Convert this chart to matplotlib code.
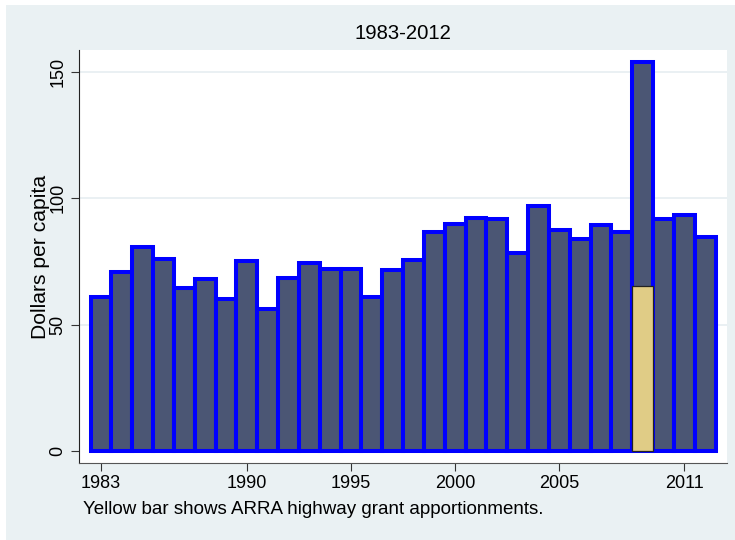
import numpy as np
import matplotlib.pyplot as plt
from matplotlib.patches import Rectangle

plt.rcParams['font.family'] = ['Liberation Sans', 'DejaVu Sans']

years = list(range(1983, 2013))
dollars = [60.9, 70.7, 80.7, 76.0, 64.5, 68.1, 60.3, 75.2, 56.3, 68.6,
           74.4, 72.0, 72.0, 60.9, 71.6, 75.7, 86.7, 89.8, 92.2, 92.0,
           78.2, 96.8, 87.3, 83.8, 89.4, 86.8, 153.8, 92.0, 93.4, 84.6]
arra_year = [2009]
arra_value = [65.4]
xticks = [1983, 1990, 1995, 2000, 2005, 2011]
yticks = [0, 50, 100, 150]

bg = '#EAF1F3'
fig = plt.figure(figsize=(7.35, 5.4), dpi=100, facecolor='white')
fig.patches.append(Rectangle((6/735, 0), 1, 535/540, transform=fig.transFigure,
                             facecolor=bg, edgecolor='none', zorder=-10))

ax = fig.add_axes([79/735, 77/540, 648/735, 413/540])
ax.set_facecolor('white')
for y in yticks[1:]:
    ax.axhline(y, color='#E6EEF1', lw=1.2, zorder=0)

ax.bar(years, dollars, width=1, color='#4B5674', edgecolor='#0000FF', linewidth=2.9, zorder=2)
ax.bar(arra_year, arra_value, width=1, color='#E0CC86', edgecolor='#222222', linewidth=0.9, zorder=3)

ax.set_xlim(1981.94, 2013.05)
ax.set_ylim(-4.75, 158.7)
ax.set_xticks(xticks)
ax.set_yticks(yticks)
ax.set_yticklabels([str(v) for v in yticks], rotation=90, va='center')
ax.tick_params(axis='both', length=6, width=0.8, color='#333333')
ax.tick_params(axis='y', labelsize=13, pad=3)
ax.tick_params(axis='x', labelsize=13, pad=3)
ax.spines['top'].set_visible(False)
ax.spines['right'].set_visible(False)
ax.spines['left'].set_color('#222222')
ax.spines['bottom'].set_color('#555555')
ax.set_ylabel('Dollars per capita', fontsize=15.2, labelpad=0)
ax.set_title('1983-2012', fontsize=14.6, pad=8)

fig.text(83/735, 1 - 509/540, 'Yellow bar shows ARRA highway grant apportionments.',
         fontsize=13.5, ha='left', va='center')

fig.savefig('out.png', dpi=100, facecolor=fig.get_facecolor())
